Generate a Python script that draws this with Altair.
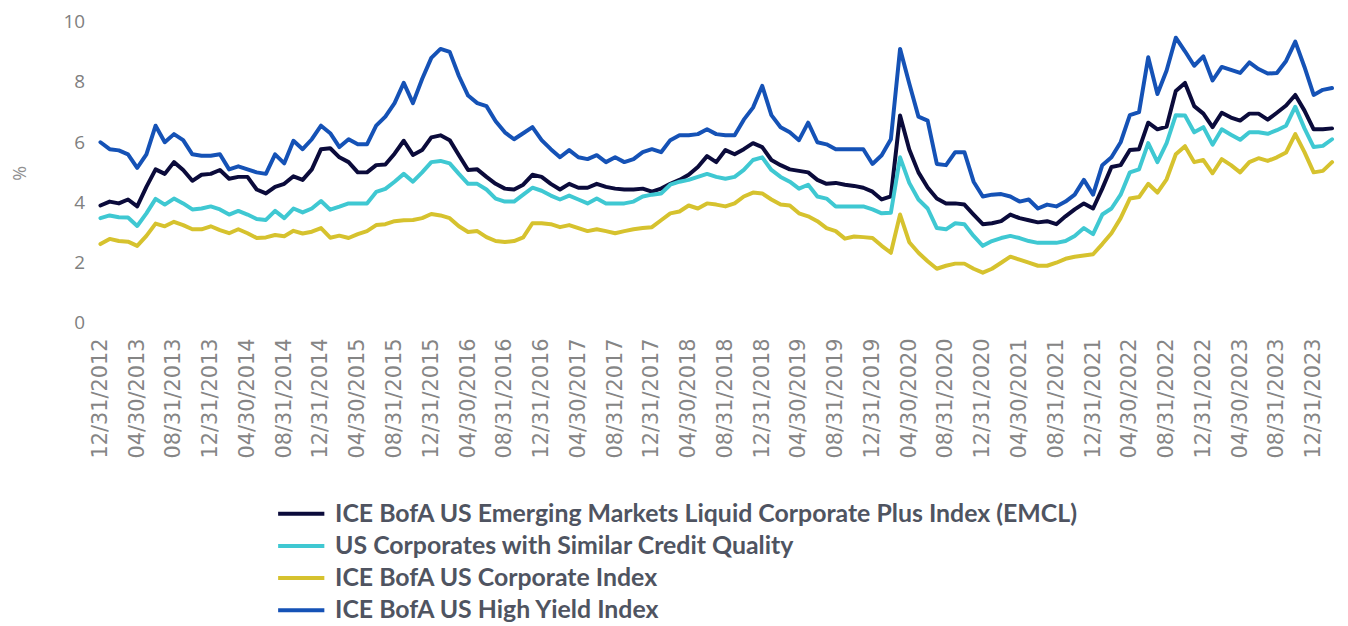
import calendar
import altair as alt
import pandas as pd

# ---- month-end labels, Dec 2012 .. Feb 2024 (135 months) ----
dates = []
y, m = 2012, 12
for _ in range(135):
    d = calendar.monthrange(y, m)[1]
    dates.append(f"{m:02d}/{d:02d}/{y}")
    m += 1
    if m > 12:
        m = 1
        y += 1
tick_labels = dates[0::4][:34]

series_names = [
    "ICE BofA US Emerging Markets Liquid Corporate Plus Index (EMCL)",
    "US Corporates with Similar Credit Quality",
    "ICE BofA US Corporate Index",
    "ICE BofA US High Yield Index",
]
series_colors = ["#0b0b3b", "#3fc8d2", "#d6c22e", "#1552b6"]

emcl = [
    3.90, 4.03, 3.97, 4.10, 3.87, 4.52, 5.10, 4.95, 5.34, 5.08, 4.72, 4.92, 4.95, 5.08, 4.79, 4.85,
    4.85, 4.43, 4.30, 4.52, 4.62, 4.87, 4.75, 5.10, 5.77, 5.80, 5.50, 5.34, 5.00, 5.00, 5.24, 5.26,
    5.62, 6.05, 5.58, 5.74, 6.16, 6.23, 6.07, 5.57, 5.08, 5.10, 4.85, 4.62, 4.46, 4.43, 4.59, 4.92,
    4.85, 4.62, 4.43, 4.62, 4.49, 4.49, 4.62, 4.52, 4.46, 4.43, 4.43, 4.46, 4.36, 4.46, 4.62, 4.75,
    4.92, 5.18, 5.54, 5.34, 5.74, 5.60, 5.77, 5.97, 5.84, 5.41, 5.24, 5.10, 5.05, 5.00, 4.75, 4.62,
    4.65, 4.59, 4.55, 4.49, 4.36, 4.10, 4.20, 6.89, 5.76, 5.00, 4.50, 4.13, 3.97, 3.97, 3.93, 3.60,
    3.28, 3.31, 3.38, 3.60, 3.48, 3.41, 3.34, 3.38, 3.28, 3.54, 3.77, 3.97, 3.80, 4.46, 5.18, 5.24,
    5.74, 5.77, 6.65, 6.43, 6.52, 7.70, 7.97, 7.20, 6.95, 6.50, 6.98, 6.82, 6.72, 6.95, 6.95, 6.75,
    6.98, 7.22, 7.57, 7.05, 6.43, 6.43, 6.46,
]
us_similar = [
    3.48, 3.57, 3.51, 3.50, 3.22, 3.64, 4.12, 3.93, 4.13, 3.97, 3.77, 3.80, 3.87, 3.77, 3.60, 3.72,
    3.60, 3.45, 3.42, 3.72, 3.48, 3.80, 3.67, 3.80, 4.05, 3.76, 3.86, 3.97, 3.97, 3.97, 4.35, 4.45,
    4.69, 4.95, 4.69, 5.00, 5.34, 5.38, 5.30, 4.95, 4.62, 4.62, 4.43, 4.13, 4.03, 4.03, 4.26, 4.49,
    4.39, 4.23, 4.10, 4.23, 4.10, 3.97, 4.13, 3.97, 3.97, 3.97, 4.03, 4.20, 4.26, 4.30, 4.59, 4.69,
    4.75, 4.85, 4.95, 4.85, 4.79, 4.85, 5.08, 5.41, 5.50, 5.08, 4.85, 4.69, 4.46, 4.59, 4.20, 4.13,
    3.87, 3.87, 3.87, 3.87, 3.77, 3.64, 3.66, 5.50, 4.65, 4.10, 3.80, 3.15, 3.11, 3.31, 3.28, 2.89,
    2.56, 2.72, 2.82, 2.89, 2.82, 2.72, 2.66, 2.66, 2.66, 2.72, 2.89, 3.15, 2.95, 3.60, 3.80, 4.26,
    5.00, 5.10, 5.97, 5.34, 5.97, 6.90, 6.89, 6.33, 6.50, 5.92, 6.43, 6.25, 6.08, 6.33, 6.33, 6.28,
    6.40, 6.55, 7.18, 6.46, 5.84, 5.88, 6.10,
]
us_corp = [
    2.62, 2.79, 2.72, 2.70, 2.56, 2.89, 3.30, 3.21, 3.36, 3.25, 3.11, 3.11, 3.21, 3.08, 2.98, 3.11,
    2.98, 2.82, 2.84, 2.92, 2.88, 3.06, 2.97, 3.03, 3.15, 2.83, 2.90, 2.82, 2.95, 3.05, 3.25, 3.28,
    3.38, 3.41, 3.42, 3.48, 3.62, 3.57, 3.48, 3.21, 3.02, 3.05, 2.85, 2.72, 2.69, 2.72, 2.84, 3.31,
    3.31, 3.28, 3.18, 3.25, 3.15, 3.05, 3.11, 3.05, 2.98, 3.05, 3.11, 3.15, 3.18, 3.41, 3.64, 3.70,
    3.90, 3.80, 3.97, 3.93, 3.87, 3.97, 4.20, 4.33, 4.30, 4.10, 3.93, 3.90, 3.64, 3.54, 3.38, 3.15,
    3.05, 2.80, 2.87, 2.85, 2.82, 2.56, 2.33, 3.60, 2.68, 2.33, 2.05, 1.80, 1.90, 1.97, 1.97, 1.80,
    1.67, 1.80, 2.00, 2.20, 2.10, 2.00, 1.90, 1.90, 2.00, 2.13, 2.20, 2.24, 2.28, 2.62, 2.98, 3.48,
    4.13, 4.18, 4.62, 4.33, 4.77, 5.60, 5.87, 5.34, 5.41, 4.97, 5.44, 5.24, 5.00, 5.34, 5.47, 5.38,
    5.50, 5.66, 6.27, 5.67, 5.00, 5.05, 5.34,
]
us_hy = [
    6.00, 5.77, 5.73, 5.60, 5.15, 5.60, 6.55, 6.00, 6.27, 6.07, 5.60, 5.55, 5.55, 5.60, 5.10, 5.20,
    5.10, 5.00, 4.95, 5.60, 5.30, 6.05, 5.77, 6.10, 6.55, 6.30, 5.84, 6.10, 5.93, 5.93, 6.55, 6.85,
    7.30, 7.97, 7.30, 8.10, 8.80, 9.10, 9.00, 8.20, 7.55, 7.30, 7.20, 6.70, 6.33, 6.10, 6.30, 6.50,
    6.07, 5.77, 5.50, 5.74, 5.50, 5.44, 5.57, 5.34, 5.50, 5.34, 5.44, 5.67, 5.77, 5.67, 6.07, 6.23,
    6.23, 6.27, 6.43, 6.27, 6.23, 6.23, 6.75, 7.15, 7.87, 6.90, 6.50, 6.33, 6.07, 6.65, 6.00, 5.93,
    5.77, 5.77, 5.77, 5.77, 5.28, 5.57, 6.10, 9.10, 7.95, 6.85, 6.72, 5.28, 5.24, 5.67, 5.67, 4.69,
    4.20, 4.26, 4.28, 4.20, 4.03, 4.10, 3.80, 3.93, 3.87, 4.03, 4.26, 4.75, 4.26, 5.24, 5.50, 6.00,
    6.90, 7.00, 8.82, 7.60, 8.38, 9.47, 9.02, 8.54, 8.85, 8.05, 8.50, 8.40, 8.30, 8.65, 8.43, 8.28,
    8.30, 8.70, 9.34, 8.50, 7.57, 7.74, 7.80,
]

rows = []
for name, vals in zip(series_names, [emcl, us_similar, us_corp, us_hy]):
    for i, (d, v) in enumerate(zip(dates, vals)):
        rows.append({"date": d, "idx": i, "series": name, "value": v})
df = pd.DataFrame(rows)

chart = (
    alt.Chart(df)
    .mark_line(strokeWidth=4, strokeJoin="round", strokeCap="round")
    .encode(
        x=alt.X(
            "date:O",
            sort=dates,
            scale=alt.Scale(type="point", padding=0),
            axis=alt.Axis(
                values=tick_labels,
                labelAngle=-90,
                labelFont="DejaVu Sans",
                labelFontSize=21,
                labelColor="#858585",
                labelPadding=15,
                ticks=False,
                domain=False,
                grid=False,
                title=None,
                labelOverlap=False,
            ),
        ),
        y=alt.Y(
            "value:Q",
            scale=alt.Scale(domain=[0, 10], nice=False),
            axis=alt.Axis(
                values=[0, 2, 4, 6, 8, 10],
                title="%",
                titleFont="Open Sans",
                titleFontSize=18,
                titleFontWeight="normal",
                titleColor="#909090",
                titleX=-80,
                titleY=152,
                titleBaseline="middle",
                labelFont="Open Sans",
                labelFontSize=19,
                labelColor="#808080",
                labelPadding=16,
                ticks=False,
                domain=False,
                grid=False,
            ),
        ),
        color=alt.Color(
            "series:N",
            scale=alt.Scale(domain=series_names, range=series_colors),
            legend=alt.Legend(
                title=None,
                orient="none",
                legendX=185,
                legendY=478,
                direction="vertical",
                symbolType="M-1.55,0H1.55",
                symbolSize=900,
                symbolStrokeWidth=4,
                labelFont="Lato",
                labelFontSize=25,
                labelFontWeight="bold",
                labelColor="#4f5461",
                labelLimit=1200,
                labelOffset=17,
                rowPadding=2.3,
            ),
        ),
        order=alt.Order("idx:Q"),
    )
    .properties(
        width=1239,
        height=303,
        autosize=alt.AutoSizeParams(type="none"),
        padding={"left": 93, "top": 12, "right": 8, "bottom": 303},
    )
    .configure_view(strokeWidth=0)
)

chart.save("out.html", embed_options={"renderer": "svg", "actions": False})
